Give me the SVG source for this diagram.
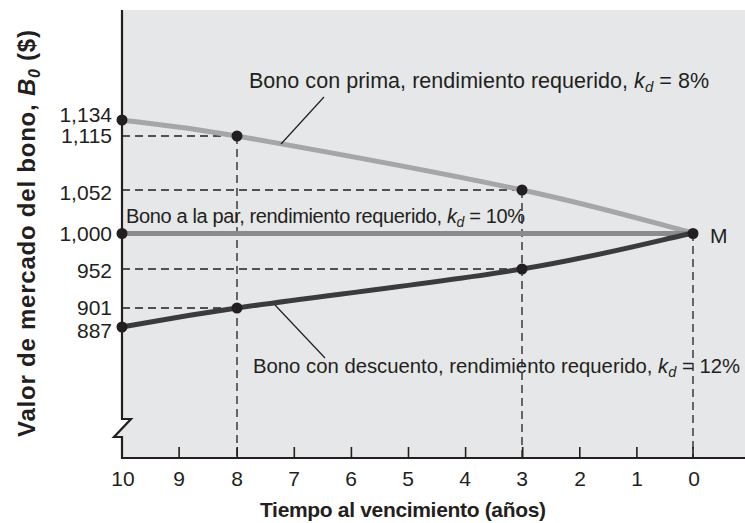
<svg xmlns="http://www.w3.org/2000/svg" width="745" height="523" viewBox="0 0 745 523">
<style>
text{font-family:"Liberation Sans",Arial,sans-serif;fill:#231f20;}
.num{font-size:21px;}
.title{font-size:21px;font-weight:bold;}
.it{font-style:italic;}
.dash{stroke:#231f20;stroke-width:1.3;stroke-dasharray:8 5;fill:none;}
.axis{stroke:#231f20;stroke-width:2.2;fill:none;}
.tick{stroke:#231f20;stroke-width:1.6;}
.dot{fill:#231f20;}
.leader{stroke:#231f20;stroke-width:1.2;}
</style>
<rect width="745" height="523" fill="#fff"/>
<path d="M122,10 H745 V458 H122 V437 H114 L131,419 H122 Z" fill="#e6e7e8"/>

<g id="gridlines">
<line class="dash" x1="122" y1="136" x2="237" y2="136"/>
<line class="dash" x1="122" y1="190" x2="522" y2="190"/>
<line class="dash" x1="122" y1="269" x2="522" y2="269"/>
<line class="dash" x1="122" y1="308" x2="237" y2="308"/>
<line class="dash" x1="237" y1="136" x2="237" y2="458"/>
<line class="dash" x1="522" y1="190" x2="522" y2="458"/>
<line class="dash" x1="693" y1="233" x2="693" y2="458"/>
</g>

<g id="axes">
<path class="axis" d="M122,10 V419 H131 L114,437 H122 V458 H745"/>
<g class="tick">
<line x1="179.1" y1="447" x2="179.1" y2="458"/>
<line x1="237.2" y1="447" x2="237.2" y2="458"/>
<line x1="294.3" y1="447" x2="294.3" y2="458"/>
<line x1="351.4" y1="447" x2="351.4" y2="458"/>
<line x1="408.5" y1="447" x2="408.5" y2="458"/>
<line x1="465.6" y1="447" x2="465.6" y2="458"/>
<line x1="522.7" y1="447" x2="522.7" y2="458"/>
<line x1="579.8" y1="447" x2="579.8" y2="458"/>
<line x1="636.9" y1="447" x2="636.9" y2="458"/>
<line x1="693" y1="447" x2="693" y2="458"/>
</g>
<g class="num" text-anchor="middle">
<text x="123" y="486">10</text>
<text x="179" y="486">9</text>
<text x="237" y="486">8</text>
<text x="294" y="486">7</text>
<text x="351" y="486">6</text>
<text x="408" y="486">5</text>
<text x="465" y="486">4</text>
<text x="522" y="486">3</text>
<text x="580" y="486">2</text>
<text x="637" y="486">1</text>
<text x="694" y="486">0</text>
</g>
<g class="num" text-anchor="end">
<text x="112" y="122">1,134</text>
<text x="112" y="143">1,115</text>
<text x="112" y="200">1,052</text>
<text x="112" y="241">1,000</text>
<text x="112" y="278">952</text>
<text x="112" y="315">901</text>
<text x="112" y="338">887</text>
</g>
<text class="title" x="260" y="517" textLength="286" lengthAdjust="spacing">Tiempo al vencimiento (años)</text>
<text class="title" transform="translate(35,437) rotate(-90)" style="font-size:24px" textLength="407" lengthAdjust="spacing">Valor de mercado del bono, <tspan class="it">B</tspan><tspan class="it" style="font-size:16px" dy="5">0</tspan><tspan dy="-5"> ($)</tspan></text>
</g>

<g id="connectors">
<path id="premium" d="M122,120 C141.2,122.7 170.3,124.3 237,136 C303.7,147.7 446,173.8 522,190 C598,206.2 664.5,225.8 693,233" stroke="#a5a6a8" stroke-width="5" fill="none"/>
<path id="par" d="M122,233.5 H693" stroke="#8b8c8e" stroke-width="5" fill="none"/>
<path id="discount" d="M122,327 C141.2,323.8 170.3,317.7 237,308 C303.7,298.3 446,281.5 522,269 C598,256.5 664.5,239 693,233" stroke="#3b3b3c" stroke-width="5" fill="none"/>
<line class="leader" x1="324" y1="97" x2="281" y2="144"/>
<line class="leader" x1="275" y1="305" x2="325" y2="358"/>
</g>

<g id="points">
<circle class="dot" cx="122" cy="120" r="5.5"/>
<circle class="dot" cx="237" cy="136" r="5.5"/>
<circle class="dot" cx="522" cy="190" r="5.5"/>
<circle class="dot" cx="122" cy="233.5" r="5.5"/>
<circle class="dot" cx="693" cy="233.5" r="5.5"/>
<circle class="dot" cx="522" cy="269" r="5.5"/>
<circle class="dot" cx="237" cy="308" r="5.5"/>
<circle class="dot" cx="122" cy="327" r="5.5"/>
</g>

<g id="label-premium">
<text x="249" y="88" font-size="21.5" textLength="460" lengthAdjust="spacing">Bono con prima, rendimiento requerido, <tspan class="it">k</tspan><tspan class="it" font-size="15" dy="4">d</tspan><tspan dy="-4"> = 8%</tspan></text>
</g>
<g id="label-par">
<text x="126" y="223" font-size="20" textLength="399" lengthAdjust="spacing">Bono a la par, rendimiento requerido, <tspan class="it">k</tspan><tspan class="it" font-size="14" dy="4">d</tspan><tspan dy="-4"> = 10%</tspan></text>
</g>
<g id="label-discount">
<text x="253" y="373" font-size="20.3" textLength="487" lengthAdjust="spacing">Bono con descuento, rendimiento requerido, <tspan class="it">k</tspan><tspan class="it" font-size="14.5" dy="4">d</tspan><tspan dy="-4"> = 12%</tspan></text>
</g>
<g id="label-M">
<text class="num" x="710" y="243">M</text>
</g>
</svg>
